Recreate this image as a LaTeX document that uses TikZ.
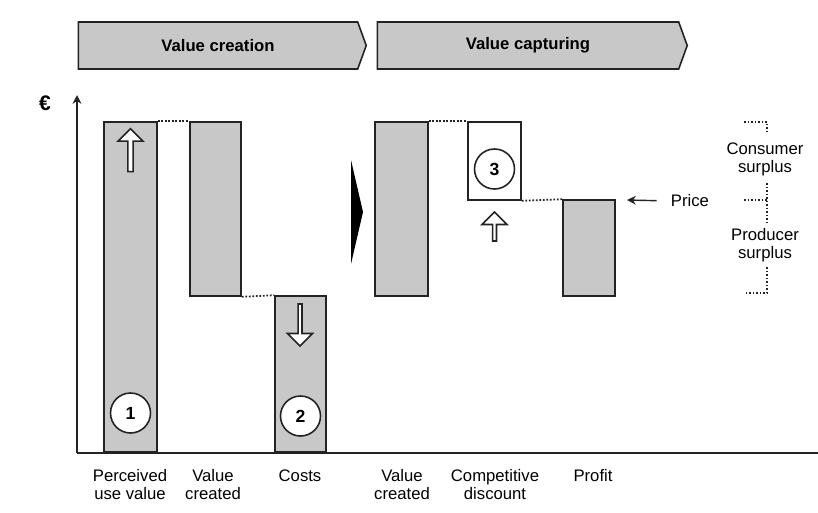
\documentclass[tikz,border=0pt]{standalone}
\usepackage{fontspec}
\setmainfont{Liberation Sans}
\usepackage{xcolor}
\usetikzlibrary{positioning,arrows.meta,fit,shapes.symbols,shapes.arrows}
\definecolor{bargray}{RGB}{200,200,200}
\definecolor{linegray}{RGB}{35,35,35}
\tikzset{
    bar/.style={
        rectangle,
        draw=linegray,
        fill=bargray,
        line width=0.9pt,
        inner sep=0pt
    },
    openbar/.style={bar, fill=white},
    phase/.style={
        signal,
        signal to=east,
        signal from=nowhere,
        signal pointer angle=140,
        draw=linegray,
        fill=bargray,
        line width=0.9pt,
        minimum height=0.94cm,
        inner sep=0pt,
        font=\fontsize{9.5}{11}\selectfont\bfseries
    },
    num/.style={
        circle,
        draw=linegray,
        fill=white,
        line width=0.9pt,
        minimum size=0.8cm,
        inner sep=0pt,
        font=\fontsize{10}{12}\selectfont\bfseries
    },
    hollow/.style={
        single arrow,
        draw=linegray,
        fill=white,
        line width=0.9pt,
        minimum width=0.5cm,
        single arrow tip angle=90,
        inner sep=0pt
    },
    lbl/.style={align=center, inner sep=0pt, font=\fontsize{9.5}{10.2}\selectfont},
    link/.style={linegray, line width=1pt, densely dotted},
    arr/.style={->, >={Stealth[length=5pt,width=5pt]}, linegray, line width=0.8pt}
}

\begin{document}
\begin{tikzpicture}[x=0.02cm, y=-0.02cm]
\useasboundingbox (0,0) rectangle (818,512);

% Phase headers
\node[phase, minimum width=5.76cm] (creation) at (218,45.5) {Value creation};
\node[phase, minimum width=6.2cm] (capturing) at (528,45.5) {Value capturing};

% Axes
\coordinate (origin) at (77,453);
\coordinate (ytop) at (77,95);
\coordinate (xend) at (818,453);
\draw[arr] (origin) -- (ytop);
\draw[linegray, line width=1pt] (origin) -- (xend);
\node[font=\fontsize{12}{14}\selectfont\bfseries] (euro) at (45,103) {€};

% Value creation bars
\node[bar, fit={(104,122) (157,452)}] (puv) {};
\node[bar, fit={(190,122) (241,296)}] (vc) {};
\node[bar, fit={(275,296) (326,452)}] (costs) {};
\draw[link] (puv.north east) -- (vc.north west);
\draw[link] (vc.south east) -- (costs.north west);

\node[hollow, shape border rotate=90, minimum height=0.86cm,
      single arrow head extend=0.06cm] (up1) at (130.5,151.5) {};
\node[hollow, shape border rotate=270, minimum height=0.84cm,
      single arrow head extend=0.085cm] (down2) at (300,324) {};
\node[num] (n1) at (130.5,413) {1};
\node[num] (n2) at (300.5,416) {2};

% Black pointer between the phases
\fill[black] (351,160) -- (363,212) -- (351,264) -- cycle;

% Value capturing bars
\node[bar, fit={(375,122) (428,296)}] (vc2) {};
\node[openbar, fit={(468,122) (521,200)}] (disc) {};
\node[bar, fit={(563,200) (615,296)}] (profit) {};
\draw[link] (vc2.north east) -- (disc.north west);
\draw[link] (disc.south east) -- (profit.north west);

\node[num] (n3) at (494.5,169) {3};
\node[hollow, shape border rotate=90, minimum height=0.58cm,
      single arrow head extend=0.085cm] (up3) at (494.5,227.5) {};

% Price and surplus
\node[lbl] (price) at (690,201) {Price};
\coordinate (pricetip) at (627,200);
\draw[arr, shorten <=0.28cm] (price.west) -- (pricetip);

\node[lbl] (consumer) at (765,159) {Consumer\\surplus};
\node[lbl] (producer) at (765,245) {Producer\\surplus};
\draw[link] (744,122) -| (767,133);
\draw[link] (767,183) -- (767,222);
\draw[link] (744,200) -- (767,200);
\draw[link] (767,267) |- (744,293);

% Bar labels
\node[lbl, anchor=north] (lpuv) at (130,469) {Perceived\\use value};
\node[lbl, anchor=north] (lvc) at (213,469) {Value\\created};
\node[lbl, anchor=north] (lcosts) at (300,469) {Costs};
\node[lbl, anchor=north] (lvc2) at (402,469) {Value\\created};
\node[lbl, anchor=north] (ldisc) at (495,469) {Competitive\\discount};
\node[lbl, anchor=north] (lprofit) at (593,469) {Profit};

\end{tikzpicture}
\end{document}
